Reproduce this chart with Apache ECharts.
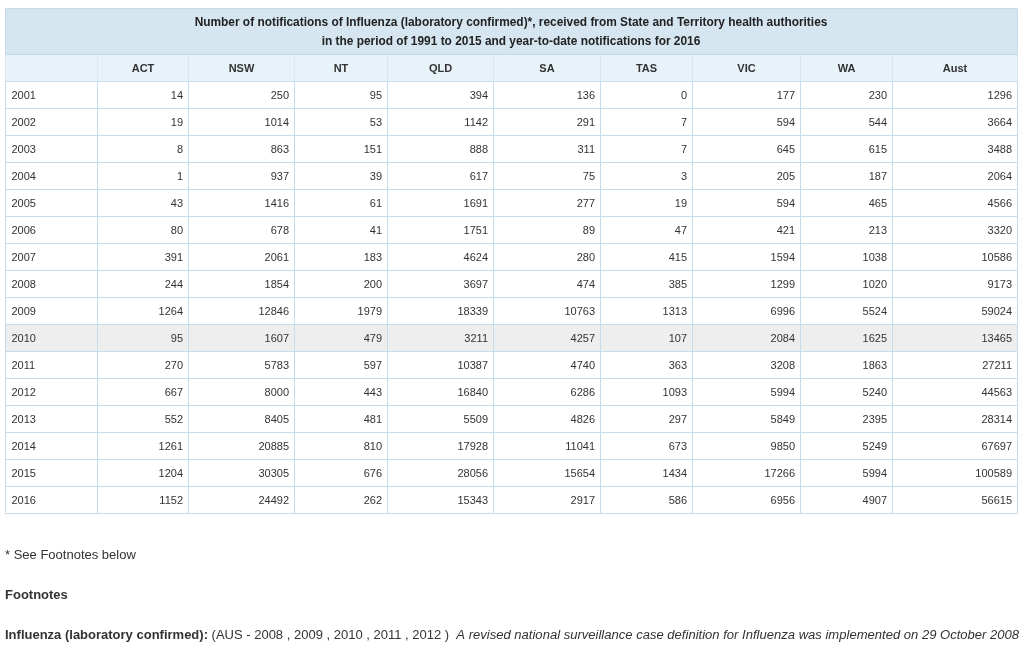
<!DOCTYPE html>
<html>
<head>
<meta charset="utf-8">
<script src="https://cdn.jsdelivr.net/npm/echarts@6/dist/echarts.min.js"></script>
<style>
html,body{margin:0;padding:0;background:#fff;}
#chart{width:1034px;height:645px;}
</style>
</head>
<body>
<div id="chart"></div>
<script>
// ---------- data ----------
const titleLines = [
  'Number of notifications of Influenza (laboratory confirmed)*, received from State and Territory health authorities',
  'in the period of 1991 to 2015 and year-to-date notifications for 2016'
];
const columns = ['ACT', 'NSW', 'NT', 'QLD', 'SA', 'TAS', 'VIC', 'WA', 'Aust'];
const years = ['2001','2002','2003','2004','2005','2006','2007','2008','2009','2010','2011','2012','2013','2014','2015','2016'];
const ACT  = [14, 19, 8, 1, 43, 80, 391, 244, 1264, 95, 270, 667, 552, 1261, 1204, 1152];
const NSW  = [250, 1014, 863, 937, 1416, 678, 2061, 1854, 12846, 1607, 5783, 8000, 8405, 20885, 30305, 24492];
const NT   = [95, 53, 151, 39, 61, 41, 183, 200, 1979, 479, 597, 443, 481, 810, 676, 262];
const QLD  = [394, 1142, 888, 617, 1691, 1751, 4624, 3697, 18339, 3211, 10387, 16840, 5509, 17928, 28056, 15343];
const SA   = [136, 291, 311, 75, 277, 89, 280, 474, 10763, 4257, 4740, 6286, 4826, 11041, 15654, 2917];
const TAS  = [0, 7, 7, 3, 19, 47, 415, 385, 1313, 107, 363, 1093, 297, 673, 1434, 586];
const VIC  = [177, 594, 645, 205, 594, 421, 1594, 1299, 6996, 2084, 3208, 5994, 5849, 9850, 17266, 6956];
const WA   = [230, 544, 615, 187, 465, 213, 1038, 1020, 5524, 1625, 1863, 5240, 2395, 5249, 5994, 4907];
const Aust = [1296, 3664, 3488, 2064, 4566, 3320, 10586, 9173, 59024, 13465, 27211, 44563, 28314, 67697, 100589, 56615];
const footnoteMark = '* See Footnotes below';
const footnoteHeading = 'Footnotes';
const footnoteLabel = 'Influenza (laboratory confirmed):';
const footnoteYears = '(AUS - 2008 , 2009 , 2010 , 2011 , 2012 )';
const footnoteText = 'A revised national surveillance case definition for Influenza was implemented on 29 October 2008';

// ---------- layout (column widths in table units) ----------
const colWidths = [91.7, 91, 106.6, 92.4, 106.6, 106.7, 92.3, 107.7, 92.3, 125];
const highlightYear = '2010';
const FONT = '"Liberation Sans", Arial, sans-serif';

const seriesCols = [ACT, NSW, NT, QLD, SA, TAS, VIC, WA, Aust];
const edges = [0];
colWidths.forEach(w => edges.push(edges[edges.length - 1] + w));
const rowCats = ['header'].concat(years);

// build cell list: [xStart, rowCategory, xEnd, text, kind]
const cells = [];
rowCats.forEach((r, ri) => {
  for (let c = 0; c < colWidths.length; c++) {
    let text, kind;
    if (ri === 0) {
      text = c === 0 ? '' : columns[c - 1];
      kind = 'header';
    } else {
      text = c === 0 ? r : String(seriesCols[c - 1][ri - 1]);
      kind = c === 0 ? 'year' : 'num';
    }
    cells.push({ value: [edges[c], r, edges[c + 1], text, kind] });
  }
});

const chart = echarts.init(document.getElementById('chart'), null, { renderer: 'canvas' });

function renderCell(params, api) {
  const x0v = api.value(0), x1v = api.value(2);
  const row = api.value(1);
  const text = api.value(3);
  const kind = api.value(4);
  const pA = api.coord([x0v, row]);
  const pB = api.coord([x1v, row]);
  const h = api.size([0, 1])[1];
  const x0 = Math.round(pA[0]) + 0.5;
  const x1 = Math.round(pB[0]) + 0.5;
  const y0 = Math.round(pA[1] - h / 2) + 0.5;
  const y1 = Math.round(pA[1] + h / 2) + 0.5;
  const isHeader = kind === 'header';
  const rowName = typeof row === 'number' ? rowCats[row] : row;
  const fill = isHeader ? '#e8f2f9' : (rowName === highlightYear ? '#eeeeee' : '#ffffff');
  const stroke = isHeader ? '#dde6ec' : '#c5dced';
  let tx, align;
  if (isHeader) { tx = (x0 + x1) / 2; align = 'center'; }
  else if (kind === 'year') { tx = x0 + 6; align = 'left'; }
  else { tx = x1 - 5.5; align = 'right'; }
  return {
    type: 'group',
    children: [
      { type: 'rect', shape: { x: x0, y: y0, width: x1 - x0, height: y1 - y0 },
        style: { fill: fill, stroke: stroke, lineWidth: 1 } },
      { type: 'text', x: tx, y: (y0 + y1) / 2 + 0.8,
        style: { text: text, textAlign: align, textVerticalAlign: 'middle',
                 fill: '#333333', font: (isHeader ? 'bold ' : '') + '11px ' + FONT } }
    ]
  };
}

chart.setOption({
  animation: false,
  backgroundColor: '#ffffff',
  grid: { left: 5, right: 17, top: 54, bottom: 132, containLabel: false },
  xAxis: { type: 'value', min: 0, max: edges[edges.length - 1], show: false },
  yAxis: { type: 'category', data: rowCats, inverse: true, show: false },
  series: [{
    type: 'custom',
    renderItem: renderCell,
    encode: { x: [0, 2], y: 1 },
    data: cells,
    silent: true,
    clip: false
  }],
  graphic: [
    { type: 'rect', left: 5, top: 8, z: 10,
      shape: { width: 1012, height: 46 },
      style: { fill: '#d5e6f1', stroke: '#c5dbea', lineWidth: 1 } },
    { type: 'text', x: 511, y: 13.5, z: 11,
      style: { text: titleLines.join('\n'), textAlign: 'center', textVerticalAlign: 'top', fill: '#222222',
               font: 'bold 11.9px ' + FONT, lineHeight: 19 } },
    { type: 'text', left: 5, top: 549,
      style: { text: footnoteMark, fill: '#333333', font: '13px ' + FONT } },
    { type: 'text', left: 5, top: 589,
      style: { text: footnoteHeading, fill: '#333333', font: 'bold 13px ' + FONT } },
    { type: 'text', left: 5, top: 629,
      style: {
        text: '{b|' + footnoteLabel + '} {n|' + footnoteYears + '}  {i|' + footnoteText + '}',
        fill: '#333333', font: '13px ' + FONT,
        rich: {
          b: { fontWeight: 'bold', fontSize: 13, fontFamily: FONT, fill: '#333333' },
          n: { fontSize: 13, fontFamily: FONT, fill: '#333333' },
          i: { fontStyle: 'italic', fontSize: 13.05, fontFamily: FONT, fill: '#333333' }
        }
      } }
  ]
});
</script>
</body>
</html>
